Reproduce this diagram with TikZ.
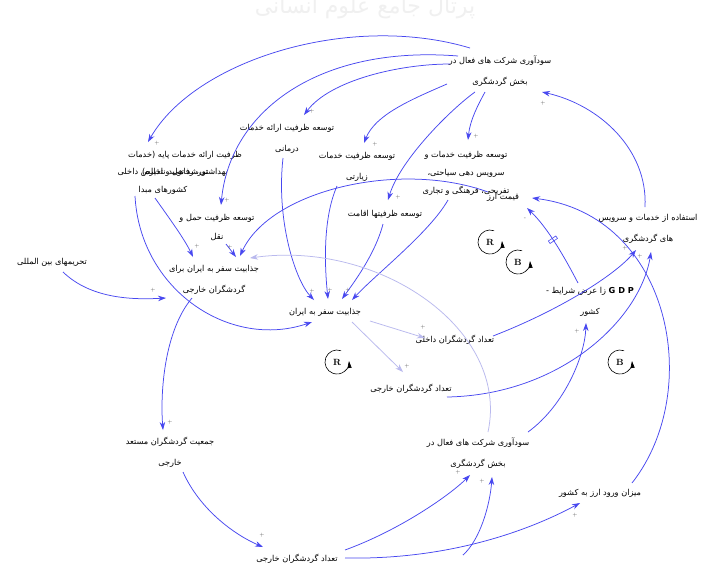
\documentclass[tikz,border=0pt]{standalone}
\usepackage{fontspec}
\newfontfamily\arabicfont[Script=Arabic]{DejaVu Sans}
\TeXXeTstate=1
\usetikzlibrary{arrows.meta,calc}
\newcommand{\fa}[1]{{\arabicfont\beginR #1\endR}}
\definecolor{arblue}{RGB}{72,72,240}
\definecolor{arlight}{RGB}{185,185,238}
\tikzset{
  lbl/.style={font=\arabicfont\fontsize{8.2}{21}\selectfont, align=center, inner sep=1pt, text=black},
  ar/.style={draw=arblue, line width=0.75pt, -{Stealth[length=8pt,width=5.5pt]}},
  arl/.style={draw=arlight, line width=0.75pt, -{Stealth[length=8pt,width=5.5pt]}},
  pl/.style={font=\fontsize{5}{5}\selectfont, text=black!70, inner sep=0pt},
  pics/loopm/.style={code={
    \draw[line width=0.6pt,-{Triangle[length=7pt,width=4pt]}] (-70:12) arc[start angle=-70,end angle=-365,radius=12];
    \node[font=\bfseries\fontsize{9}{9}\selectfont, inner sep=0pt] (-t) at (0,0) {#1};
  }}
}
\begin{document}
\begin{tikzpicture}[x=1pt,y=-1pt]
\useasboundingbox[fill=white] (0,0) rectangle (701,566);
\node[font=\arabicfont\fontsize{22}{22}\selectfont, text=black!6] (wm) at (365,8) {\fa{پرتال جامع علوم انسانی}};

% nodes
\node[lbl] (n1) at (500,71) {\fa{سودآوری شرکت های فعال در}\\\fa{بخش گردشگری}};
\node[lbl, font=\arabicfont\fontsize{8.2}{17}\selectfont] (basic) at (185,164) {\fa{ظرفیت ارائه خدمات پایه (خدمات}\\\fa{بهداشتی، رفاهی و تذیره)}};
\node[lbl, font=\arabicfont\fontsize{8.2}{18}\selectfont] (gdpo) at (163,181) {\fa{تورشد تولید ناخالص داخلی}\\\fa{کشورهای مبدا}};
\node[lbl] (darmani) at (287,139) {\fa{توسعه ظرفیت ارائه خدمات}\\\fa{درمانی}};
\node[lbl] (ziarati) at (357,167) {\fa{توسعه ظرفیت خدمات}\\\fa{زیارتی}};
\node[lbl, font=\arabicfont\fontsize{8.2}{18}\selectfont] (siahati) at (466,173) {\fa{توسعه ظرفیت خدمات و}\\\fa{سرویس دهی سیاحتی،}\\\fa{تفریحی، فرهنگی و تجاری}};
\node[lbl] (qeymat) at (503,197) {\fa{قیمت ارز}};
\node[lbl] (eqamat) at (385,214) {\fa{توسعه ظرفیتها اقامت}};
\node[lbl, font=\arabicfont\fontsize{8.2}{19}\selectfont] (haml) at (217,228) {\fa{توسعه ظرفیت حمل و}\\\fa{نقل}};
\node[lbl] (estefade) at (648,229) {\fa{استفاده از خدمات و سرویس}\\\fa{های گردشگری}};
\node[lbl] (tahrim) at (52,262) {\fa{تحریمهای بین المللی}};
\node[lbl] (jazf) at (214,280) {\fa{جذابیت سفر به ایران برای}\\\fa{گردشگران خارجی}};
\node[lbl] (jazi) at (325,312) {\fa{جذابیت سفر به ایران}};
\node[lbl] (dakheli) at (455,340) {\fa{تعداد گردشگران داخلی}};
\node[lbl] (gdp) at (590,302) {\fa{\beginL\textbf{G D P}\endL{} زا عرض شرایط -}\\\fa{کشور}};
\node[lbl] (kharejim) at (411,389) {\fa{تعداد گردشگران خارجی}};
\node[lbl] (sood2) at (478,453) {\fa{سودآوری شرکت های فعال در}\\\fa{بخش گردشگری}};
\node[lbl] (jamiat) at (170,452) {\fa{جمعیت گردشگران مستعد}\\\fa{خارجی}};
\node[lbl] (mizan) at (600,493) {\fa{میزان ورود ارز به کشور}};
\node[lbl] (n20) at (297,559) {\fa{تعداد گردشگران خارجی}};
\node[lbl] (bot) at (443,574) {\fa{میزان سرمایه گذاری در بخش}};

% connectors
\draw[ar] ($(n1)+(-30,-23)$) .. controls (350,12) and (195,60) .. ($(basic)+(-37,-22)$);
\draw[ar] ($(n1)+(-42,-15)$) .. controls (320,45) and (230,110) .. ($(haml)+(4,-23)$);
\draw[ar] ($(n1)+(-50,-7)$) .. controls (400,64) and (330,80) .. ($(darmani)+(17,-24)$);
\draw[ar] ($(n1)+(-53,13)$) .. controls (410,100) and (375,115) .. ($(ziarati)+(7,-24)$);
\draw[ar] ($(n1)+(-15,21)$) .. controls (478,105) and (470,120) .. ($(siahati)+(2,-33)$);
\draw[ar] ($(n1)+(-25,21)$) .. controls (450,110) and (400,160) .. ($(eqamat)+(3,-14)$);
\draw[ar] ($(estefade)+(-3,-22)$) .. controls (648,150) and (600,105) .. ($(n1)+(42,21)$);
\draw[ar] ($(gdpo)+(-8,17)$) .. controls (172,222) and (185,240) .. ($(jazf)+(-21,-23)$);
\draw[ar] ($(gdpo)+(-28,15)$) .. controls (140,290) and (230,350) .. ($(jazi)+(-13,10)$);
\draw[ar] ($(darmani)+(-4,19)$) .. controls (276,220) and (295,280) .. ($(jazi)+(-11,-12)$);
\draw[ar] ($(ziarati)+(-20,19)$) .. controls (322,220) and (325,270) .. ($(jazi)+(3,-13)$);
\draw[ar] ($(eqamat)+(-2,10)$) .. controls (375,255) and (352,285) .. ($(jazi)+(17,-13)$);
\draw[ar] ($(siahati)+(-18,27)$) .. controls (430,232) and (375,275) .. ($(jazi)+(27,-12)$);
\draw[ar] ($(qeymat)+(-15,-5)$) .. controls (400,160) and (270,190) .. ($(jazf)+(26,-24)$);
\draw[ar] ($(haml)+(9,16)$) -- ($(jazf)+(22,-23)$);
\draw[ar] ($(tahrim)+(11,10)$) .. controls (90,298) and (130,300) .. ($(jazf)+(-48,18)$);
\draw[ar] ($(jazf)+(-22,18)$) .. controls (165,330) and (160,390) .. ($(jamiat)+(-7,-22)$);
\draw[ar] ($(jamiat)+(13,20)$) .. controls (200,510) and (235,535) .. ($(n20)+(-34,-12)$);
\draw[ar] ($(n20)+(48,-9)$) .. controls (400,530) and (450,495) .. ($(sood2)+(-8,22)$);
\draw[ar] ($(n20)+(48,-1)$) .. controls (450,560) and (530,530) .. ($(mizan)+(-20,10)$);
\draw[ar] ($(bot)+(20,-19)$) .. controls (480,540) and (490,505) .. ($(sood2)+(14,24)$);
\draw[ar] ($(sood2)+(50,-21)$) .. controls (565,405) and (585,355) .. ($(gdp)+(-4,21)$);
\draw[ar] ($(gdp)+(-12,-19)$) .. controls (565,258) and (548,228) .. node[pos=0.55, sloped, draw=arblue, line width=0.6pt, minimum width=3pt, minimum height=9pt, inner sep=0pt] (dly) {} ($(qeymat)+(24,11)$);
\draw[ar] ($(mizan)+(32,-10)$) .. controls (705,390) and (670,215) .. ($(qeymat)+(29,1)$);
\draw[ar] ($(dakheli)+(38,-4)$) .. controls (560,310) and (615,275) .. ($(estefade)+(-12,21)$);
\draw[ar] ($(kharejim)+(36,8)$) .. controls (560,395) and (640,320) .. ($(estefade)+(3,23)$);
\draw[arl] ($(jazi)+(45,9)$) -- ($(dakheli)+(-30,-2)$);
\draw[arl] ($(jazi)+(27,10)$) -- ($(kharejim)+(-8,-17)$);
\draw[arl] ($(sood2)+(10,-21)$) .. controls (510,330) and (380,240) .. ($(jazf)+(36,-22)$);

% polarity signs
\node[pl] (p1) at (157,143) {+};
\node[pl] (p2) at (227,200) {+};
\node[pl] (p3) at (312,111) {+};
\node[pl] (p4) at (375,144) {+};
\node[pl] (p5) at (476,136) {+};
\node[pl] (p6) at (398,197) {+};
\node[pl] (p7) at (543,103) {+};
\node[pl] (p8) at (625,248) {+};
\node[pl] (p9) at (640,256) {+};
\node[pl] (p10) at (197,246) {+};
\node[pl] (p11) at (230,247) {+};
\node[pl] (p12) at (153,290) {+};
\node[pl] (p13) at (312,291) {+};
\node[pl] (p14) at (330,290) {+};
\node[pl] (p15) at (348,290) {+};
\node[pl] (p16) at (423,327) {+};
\node[pl] (p17) at (407,366) {+};
\node[pl] (p18) at (170,422) {+};
\node[pl] (p19) at (262,535) {+};
\node[pl] (p20) at (575,515) {+};
\node[pl] (p21) at (458,472) {+};
\node[pl] (p22) at (482,481) {+};
\node[pl] (p23) at (577,331) {+};
\node[pl] (p24) at (525,219) {-};

% loop markers
\pic (l1) at (337,362) {loopm=R};
\pic (l2) at (490,242) {loopm=R};
\pic (l3) at (518,262) {loopm=B};
\pic (l4) at (620,362) {loopm=B};
\end{tikzpicture}
\end{document}
